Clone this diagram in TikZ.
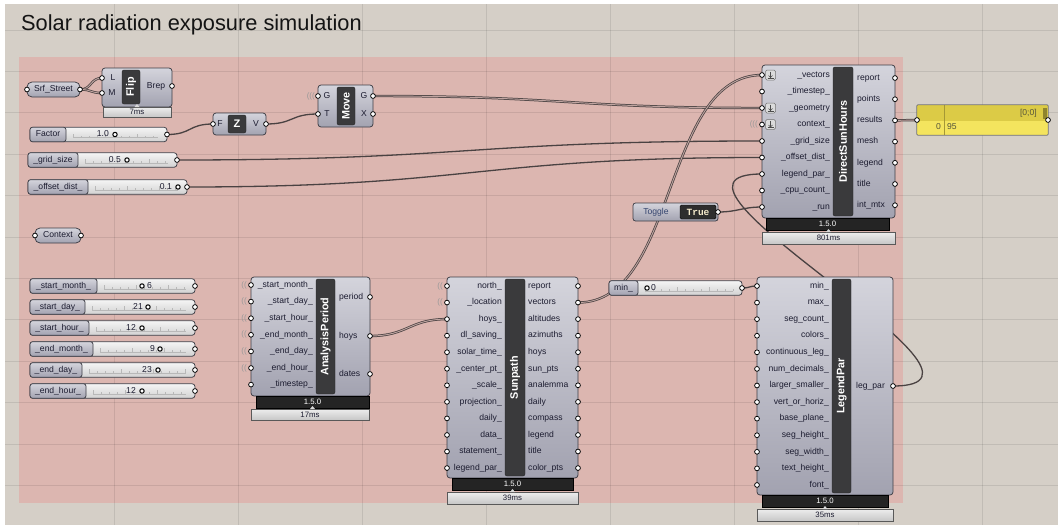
\documentclass[tikz,border=0pt]{standalone}
\usepackage{fontspec}
\setmainfont{Liberation Sans}
\setmonofont{Liberation Mono}
\usetikzlibrary{calc}
\pgfdeclarelayer{bg}
\pgfdeclarelayer{wires}
\pgfsetlayers{bg,wires,main}

\definecolor{canvas}{HTML}{D5CFC7}
\definecolor{grouppink}{HTML}{DCB6B0}
\definecolor{wirec}{HTML}{4A4242}
\definecolor{wiremid}{HTML}{BFA4A0}
\definecolor{bodytop}{HTML}{D4D4DC}
\definecolor{bodybot}{HTML}{A2A2B0}
\definecolor{edgec}{HTML}{3E3E46}
\definecolor{barc}{HTML}{3A3A3C}
\definecolor{verc}{HTML}{242424}
\definecolor{labc}{HTML}{1C1C30}
\definecolor{togc}{HTML}{34446E}
\definecolor{truec}{HTML}{F4EACB}
\definecolor{paneltop}{HTML}{DCCB46}
\definecolor{panelbody}{HTML}{F4E45E}
\definecolor{paneltxt}{HTML}{55553A}

\tikzset{
  lab/.style={font=\fontsize{8.6}{9}\selectfont, text=labc, inner sep=0pt, text height=6.2pt, text depth=1.7pt},
  inlab/.style={lab, anchor=east},
  outlab/.style={lab, anchor=west},
  barlab/.style={font=\bfseries\fontsize{10.8}{11}\selectfont, text=white, rotate=90, inner sep=0pt},
  verlab/.style={font=\fontsize{7.8}{8}\selectfont, text=white, inner sep=0pt},
  timlab/.style={font=\fontsize{7.8}{8}\selectfont, text=labc, inner sep=0pt},
  ghbody/.style={draw=edgec, line width=0.75pt, rounded corners=3pt, top color=bodytop, bottom color=bodybot, inner sep=0pt, outer sep=0pt},
  ghbar/.style={fill=barc, draw=black!85, line width=0.4pt, rounded corners=2pt, inner sep=0pt, outer sep=0pt},
  ghver/.style={fill=verc, draw=black, line width=0.4pt, inner sep=0pt, outer sep=0pt},
  ghtime/.style={top color=white!93!black, bottom color=white!78!black, draw=black!65, line width=0.6pt, inner sep=0pt, outer sep=0pt},
  sldlab/.style={ghbody, rounded corners=2.5pt},
  sldval/.style={draw=edgec, line width=0.75pt, rounded corners=3pt, top color=white!96!black, bottom color=white!82!black, inner sep=0pt, outer sep=0pt},
  capsule/.style={ghbody, rounded corners=5pt},
  portst/.style={fill=white, draw=black, line width=0.75pt},
  wire/.style={draw=wirec, line width=1.3pt},
  wire2/.style={draw=wirec, line width=0.75pt, double=wiremid, double distance=0.9pt},
  rail/.style={draw=black!28, line width=0.4pt},
  knob/.style={fill=white, draw=black, line width=1pt},
  wl/.style={font=\fontsize{8}{8}\selectfont, text=black!40, inner sep=0pt, anchor=east},
  notch/.style={fill=white!85!black, draw=none},
  flatbox/.style={minimum size=10pt, draw=black!55, fill=white!86!black, rounded corners=1.5pt, inner sep=0pt, line width=0.5pt},
  flatmark/.style={draw=black!70, line width=0.6pt},
  gridl/.style={draw=black, opacity=0.09, line width=1pt},
}

% rectangle node from its two corners
\newcommand\ghbox[6]{\node[#6, minimum width={(#4-#2)*1pt}, minimum height={(#5-#3)*1pt}] (#1) at ({(#2+#4)/2},{(#3+#5)/2}) {};}
% small up-pointing triangle between version and timing bars
\newcommand\ghnotch[2]{\fill[notch] (#1-2.5,#2) -- (#1+2.5,#2) -- (#1,#2-3) -- cycle;}
% number slider: name, x-left, y-centre, x-right, split, label, value, value-right, knob-x
\newcommand\ghslider[9]{%
  \node[sldval, minimum width={(#4-#2)*1pt}, minimum height=14.6pt] (#1) at ({(#2+#4)/2},#3) {};
  \pgfmathsetmacro\ra{#5+7}\pgfmathsetmacro\rb{#4-9}\pgfmathsetmacro\rc{#5+15}\pgfmathsetmacro\rd{#5+39}
  \draw[rail] (\ra,#3+3) -- (\rb,#3+3);
  \foreach \tx in {\ra,\rc,...,\rb} \draw[rail] (\tx,#3+3) -- (\tx,#3+1);
  \foreach \tx in {\ra,\rd,...,\rb} \draw[rail] (\tx,#3+3) -- (\tx,#3-1);
  \node[sldlab, minimum width={(#5-#2)*1pt}, minimum height=14.6pt] (#1-lab) at ({(#2+#5)/2},#3) {};
  \node[lab] (#1-name) at (#1-lab) {#6};
  \node[lab, anchor=east] (#1-v) at (#8,#3) {#7};
  \draw[knob] (#9,#3) circle (2.2pt);
  \coordinate (#1-out) at (#4,#3);
  \draw[portst] (#1-out) circle (2.4pt);
}
% flatten marker beside an input
\newcommand\flaticon[2]{%
  \node[flatbox] (#1) at ($(#2)+(8.5,0)$) {};
  \draw[flatmark] ($(#1)+(0,-3.5)$) -- ($(#1)+(0,2.5)$);
  \draw[flatmark] ($(#1)+(-3,2.8)$) -- ($(#1)+(3,2.8)$);
  \draw[flatmark] ($(#1)+(-2,0.5)$) -- ($(#1)+(0,2.5)$) -- ($(#1)+(2,0.5)$);
}

\begin{document}
\begin{tikzpicture}[x=1pt,y=-1pt]
\useasboundingbox (0,0) rectangle (1058,525);

% canvas, group and grid
\begin{pgfonlayer}{bg}
  \fill[canvas] (0,0) rectangle (1058,525);
  \fill[grouppink] (19,57) rectangle (903,503);
  \foreach \gx in {114,238,...,990} \draw[gridl] (\gx,0) -- (\gx,525);
  \foreach \gy in {30,71.4,...,520} \draw[gridl] (0,\gy) -- (1058,\gy);
  \fill[white] (0,0) rectangle (1058,4);
  \fill[white] (0,0) rectangle (5,525);
\end{pgfonlayer}

\node[font=\fontsize{21.8}{24}\selectfont, anchor=base west, inner sep=0pt, text=black!92] (title) at (21,30) {Solar radiation exposure simulation};

% ---------- geometry inputs ----------
\ghbox{srf}{27}{82}{80}{97}{capsule}
\node[lab] (srf-t) at (srf) {Srf\_Street};
\coordinate (srf-in) at (27,89.5); \coordinate (srf-out) at (80,89.5);
\draw[portst] (srf-in) circle (2.4pt); \draw[portst] (srf-out) circle (2.4pt);

\ghbox{ctx}{35}{228}{81}{243}{capsule}
\node[lab] (ctx-t) at (ctx) {Context};
\coordinate (ctx-in) at (35,235.5); \coordinate (ctx-out) at (81,235.5);
\draw[portst] (ctx-in) circle (2.4pt); \draw[portst] (ctx-out) circle (2.4pt);

% Flip
\ghbox{flip}{102}{68}{172}{107}{ghbody}
\ghbox{flip-bar}{122}{70}{140}{104}{ghbar}
\node[barlab] (flip-name) at (flip-bar) {Flip};
\node[lab] (flip-l1) at (113,78) {L};
\node[lab] (flip-l2) at (112,93) {M};
\node[lab] (flip-l3) at (156,86) {Brep};
\ghbox{flip-tim}{103}{107}{171}{117}{ghtime}
\node[timlab] (flip-tt) at (flip-tim) {7ms};
\ghnotch{137}{107}
\coordinate (flip-inL) at (102,78); \coordinate (flip-inM) at (102,93); \coordinate (flip-out) at (172,86);
\foreach \p in {flip-inL,flip-inM,flip-out} \draw[portst] (\p) circle (2.4pt);

% Unit Z
\ghbox{unz}{213}{113}{266}{135}{ghbody}
\ghbox{unz-icon}{228}{115}{246}{133}{ghbar}
\node[font=\bfseries\fontsize{11}{11}\selectfont, text=white, inner sep=0pt] (unz-z) at (unz-icon) {Z};
\node[lab] (unz-l1) at (220,124) {F};
\node[lab] (unz-l2) at (256,124) {V};
\coordinate (unz-in) at (213,124); \coordinate (unz-out) at (266,124);
\draw[portst] (unz-in) circle (2.4pt); \draw[portst] (unz-out) circle (2.4pt);

% Move
\ghbox{move}{318}{85}{373}{127}{ghbody}
\ghbox{move-bar}{337}{87}{355}{125}{ghbar}
\node[barlab] (move-name) at (move-bar) {Move};
\node[lab] (move-l1) at (327,96) {G};
\node[lab] (move-l2) at (327,114) {T};
\node[lab] (move-l3) at (364,96) {G};
\node[lab] (move-l4) at (364,114) {X};
\node[wl] (move-w) at (315,96) {(((};
\coordinate (move-in1) at (318,96); \coordinate (move-in2) at (318,114);
\coordinate (move-out1) at (373,96); \coordinate (move-out2) at (373,114);
\foreach \p in {move-in1,move-in2,move-out1,move-out2} \draw[portst] (\p) circle (2.4pt);

% ---------- sliders ----------
\ghslider{factor}{30}{134.5}{167}{66}{Factor}{1.0}{109}{115}
\ghslider{grid}{28}{160}{177}{78}{\_grid\_size}{0.5}{121}{127}
\ghslider{offset}{28}{187}{187}{88}{\_offset\_dist\_}{0.1}{172}{178}
\ghslider{smonth}{30}{286}{195}{97}{\_start\_month\_}{6}{152}{142}
\ghslider{sday}{30}{307}{195}{85}{\_start\_day\_}{21}{143}{148}
\ghslider{shour}{30}{328}{195}{89}{\_start\_hour\_}{12}{136}{142}
\ghslider{emonth}{30}{349}{195}{93}{\_end\_month\_}{9}{155}{160}
\ghslider{eday}{30}{370}{195}{82}{\_end\_day\_}{23}{152}{158}
\ghslider{ehour}{30}{391}{195}{86}{\_end\_hour\_}{12}{136}{142}
\ghslider{min}{609}{288}{742}{638}{min\_}{0}{656}{647}

% ---------- AnalysisPeriod ----------
\ghbox{ap}{251}{277}{370}{396}{ghbody}
\ghbox{ap-bar}{316}{279}{335}{394}{ghbar}
\node[barlab] (ap-name) at (ap-bar) {AnalysisPeriod};
\foreach \t [count=\i] in {\_start\_month\_, \_start\_day\_, \_start\_hour\_, \_end\_month\_, \_end\_day\_, \_end\_hour\_, \_timestep\_}{
  \pgfmathsetmacro\yy{285+(\i-1)*16.6}
  \coordinate (ap-in\i) at (251,\yy);
  \node[inlab] (ap-il\i) at (313,\yy) {\t};
  \draw[portst] (ap-in\i) circle (2.4pt);
}
\foreach \i in {1,...,6} \node[wl] (ap-w\i) at (247,{285+(\i-1)*16.6}) {((};
\foreach \t/\yy [count=\i] in {period/297, hoys/336, dates/374}{
  \coordinate (ap-out\i) at (370,\yy);
  \node[outlab] (ap-ol\i) at (339,\yy) {\t};
  \draw[portst] (ap-out\i) circle (2.4pt);
}
\ghbox{ap-ver}{256}{396}{369}{408}{ghver}
\node[verlab] (ap-vt) at (ap-ver) {1.5.0};
\ghbox{ap-tim}{251}{409}{369}{420}{ghtime}
\node[timlab] (ap-tt) at (ap-tim) {17ms};
\ghnotch{312.5}{409}

% ---------- Sunpath ----------
\ghbox{sp}{447}{277}{578}{478}{ghbody}
\ghbox{sp-bar}{505}{279}{525}{476}{ghbar}
\node[barlab] (sp-name) at (sp-bar) {Sunpath};
\foreach \t [count=\i] in {north\_, \_location, hoys\_, dl\_saving\_, solar\_time\_, \_center\_pt\_, \_scale\_, projection\_, daily\_, data\_, statement\_, legend\_par\_}{
  \pgfmathsetmacro\yy{286+(\i-1)*16.55}
  \coordinate (sp-in\i) at (447,\yy);
  \node[inlab] (sp-il\i) at (502,\yy) {\t};
  \draw[portst] (sp-in\i) circle (2.4pt);
}
\foreach \i in {1,2} \node[wl] (sp-w\i) at (443,{286+(\i-1)*16.55}) {((};
\foreach \t [count=\i] in {report, vectors, altitudes, azimuths, hoys, sun\_pts, analemma, daily, compass, legend, title, color\_pts}{
  \pgfmathsetmacro\yy{286+(\i-1)*16.55}
  \coordinate (sp-out\i) at (578,\yy);
  \node[outlab] (sp-ol\i) at (528,\yy) {\t};
  \draw[portst] (sp-out\i) circle (2.4pt);
}
\ghbox{sp-ver}{452}{478}{573}{490}{ghver}
\node[verlab] (sp-vt) at (sp-ver) {1.5.0};
\ghbox{sp-tim}{447}{492}{578}{504}{ghtime}
\node[timlab] (sp-tt) at (sp-tim) {39ms};
\ghnotch{512.5}{492}

% ---------- LegendPar ----------
\ghbox{lp}{757}{277}{893}{495}{ghbody}
\ghbox{lp-bar}{832}{279}{851}{493}{ghbar}
\node[barlab] (lp-name) at (lp-bar) {LegendPar};
\foreach \t [count=\i] in {min\_, max\_, seg\_count\_, colors\_, continuous\_leg\_, num\_decimals\_, larger\_smaller\_, vert\_or\_horiz\_, base\_plane\_, seg\_height\_, seg\_width\_, text\_height\_, font\_}{
  \pgfmathsetmacro\yy{286+(\i-1)*16.58}
  \coordinate (lp-in\i) at (757,\yy);
  \node[inlab] (lp-il\i) at (829,\yy) {\t};
  \draw[portst] (lp-in\i) circle (2.4pt);
}
\coordinate (lp-out1) at (893,386);
\node[outlab] (lp-ol1) at (856,386) {leg\_par};
\draw[portst] (lp-out1) circle (2.4pt);
\ghbox{lp-ver}{762}{495}{888}{507}{ghver}
\node[verlab] (lp-vt) at (lp-ver) {1.5.0};
\ghbox{lp-tim}{757}{509}{893}{521}{ghtime}
\node[timlab] (lp-tt) at (lp-tim) {35ms};
\ghnotch{825}{509}

% ---------- Toggle ----------
\ghbox{tog}{633}{203}{718}{221}{sldlab}
\node[lab, text=togc] (tog-l) at (656,212) {Toggle};
\node[fill=black!82, draw=black, minimum width=36pt, minimum height=14pt, rounded corners=1.5pt, inner sep=0pt] (tog-v) at (698,212) {};
\node[font=\ttfamily\bfseries\fontsize{9.5}{10}\selectfont, text=truec, inner sep=0pt] (tog-t) at (tog-v) {True};
\coordinate (tog-out) at (718,212);
\draw[portst] (tog-out) circle (2.4pt);

% ---------- DirectSunHours ----------
\ghbox{dsh}{762}{65}{895}{218}{ghbody}
\ghbox{dsh-bar}{833}{67}{853}{216}{ghbar}
\node[barlab] (dsh-name) at (dsh-bar) {DirectSunHours};
\foreach \t [count=\i] in {\_vectors, \_timestep\_, \_geometry, context\_, \_grid\_size, \_offset\_dist\_, legend\_par\_, \_cpu\_count\_, \_run}{
  \pgfmathsetmacro\yy{75+(\i-1)*16.5}
  \coordinate (dsh-in\i) at (762,\yy);
  \node[inlab] (dsh-il\i) at (830,\yy) {\t};
  \draw[portst] (dsh-in\i) circle (2.4pt);
}
\flaticon{dsh-f1}{dsh-in1}
\flaticon{dsh-f3}{dsh-in3}
\flaticon{dsh-f4}{dsh-in4}
\node[wl] (dsh-w4) at (758,{75+3*16.5}) {(((};
\foreach \t [count=\i] in {report, points, results, mesh, legend, title, int\_mtx}{
  \pgfmathsetmacro\yy{78+(\i-1)*21.2}
  \coordinate (dsh-out\i) at (895,\yy);
  \node[outlab] (dsh-ol\i) at (857,\yy) {\t};
  \draw[portst] (dsh-out\i) circle (2.4pt);
}
\ghbox{dsh-ver}{766}{218}{889}{230}{ghver}
\node[verlab] (dsh-vt) at (dsh-ver) {1.5.0};
\ghbox{dsh-tim}{762}{232}{895}{244}{ghtime}
\node[timlab] (dsh-tt) at (dsh-tim) {801ms};
\ghnotch{828.5}{232}

% ---------- Panel ----------
\ghbox{panel}{917}{105}{1048}{135}{fill=panelbody, draw=none, inner sep=0pt}
\fill[paneltop] (917,105) rectangle (1048,120.5);
\draw[paneltop!75!black, line width=0.5pt] (944,105) -- (944,135);
\fill[paneltop!65!black] (1042.5,107.5) rectangle (1046.5,118.5);
\draw[black!55, line width=0.75pt, rounded corners=1pt] (panel.north west) rectangle (panel.south east);
\node[font=\fontsize{8.6}{9}\selectfont, text=paneltxt, anchor=east, inner sep=0pt] (panel-path) at (1037,113) {[0;0]};
\node[lab, anchor=east, text=paneltxt] (panel-idx) at (941,127.5) {0};
\node[lab, anchor=west, text=paneltxt] (panel-val) at (947,127.5) {95};
\coordinate (panel-in) at (917,120); \coordinate (panel-out) at (1048,120);
\draw[portst] (panel-in) circle (2.4pt); \draw[portst] (panel-out) circle (2.4pt);

% ---------- wires ----------
\begin{pgfonlayer}{wires}
  \draw[wire2] (srf-out) .. controls +(12,0) and +(-12,0) .. (flip-inL);
  \draw[wire2] (srf-out) .. controls +(12,0) and +(-12,0) .. (flip-inM);
  \draw[wire] (factor-out) .. controls +(25,0) and +(-25,0) .. (unz-in);
  \draw[wire] (unz-out) .. controls +(28,0) and +(-28,0) .. (move-in2);
  \draw[wire2] (move-out1) .. controls +(190,0) and +(-190,0) .. (dsh-in3);
  \draw[wire] (grid-out) .. controls +(290,0) and +(-290,0) .. (dsh-in5);
  \draw[wire] (offset-out) .. controls +(285,0) and +(-285,0) .. (dsh-in6);
  \draw[wire2] (sp-out2) .. controls +(100,0) and +(-100,0) .. (dsh-in1);
  \draw[wire2] (ap-out2) .. controls +(38,0) and +(-38,0) .. (sp-in3);
  \draw[wire] (min-out) .. controls +(8,0) and +(-8,0) .. (lp-in1);
  \draw[wire] (lp-out1) .. controls +(140,0) and +(-140,0) .. (dsh-in7);
  \draw[wire] (tog-out) .. controls +(20,0) and +(-20,0) .. (dsh-in9);
  \draw[wire2] (dsh-out3) -- (panel-in);
\end{pgfonlayer}
\end{tikzpicture}
\end{document}
